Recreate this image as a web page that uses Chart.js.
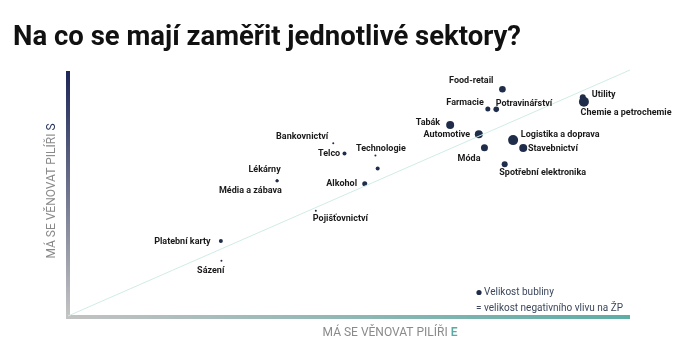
<!DOCTYPE html>
<html lang="cs">
<head>
<meta charset="utf-8">
<title>Na co se mají zaměřit jednotlivé sektory?</title>
<script src="https://cdn.jsdelivr.net/npm/chart.js@4/dist/chart.umd.min.js"></script>
<style>
  html, body { margin: 0; padding: 0; background: #fff; }
  #graf { display: block; }
</style>
</head>
<body>
<canvas id="graf" width="700" height="358"></canvas>
<script>
// sektory, pilíř E (osa x), pilíř S (osa y), velikost bubliny = negativní vliv na ŽP
const sektory = ['Food-retail', 'Farmacie', 'Potravinářství', 'Utility', 'Chemie a petrochemie',
  'Tabák', 'Automotive', 'Logistika a doprava', 'Stavebnictví', 'Móda', 'Spotřební elektronika',
  'Technologie', '', 'Alkohol', 'Telco', 'Bankovnictví', 'Lékárny', 'Média a zábava',
  'Pojišťovnictví', 'Platební karty', 'Sázení'];
const pilirE = [77.3, 74.7, 76.2, 91.6, 91.8, 68.0, 73.1, 79.2, 81.0, 74.1, 77.7,
  54.7, 55.1, 52.8, 49.2, 47.2, 37.2, 37.2, 44.1, 27.2, 27.3];
const pilirS = [92.2, 84.1, 84.0, 88.9, 87.1, 77.6, 73.9, 71.5, 68.3, 68.4, 61.7,
  65.2, 60.0, 53.8, 66.1, 70.2, 55.0, 55.0, 42.8, 30.5, 22.5];
const dopad = [3.3, 2.5, 2.8, 3, 5, 4, 4, 5, 4, 3.5, 3,
  1, 2, 2.5, 2, 1, 1.5, 1.5, 1, 2, 1];

// umístění popisků vůči bublině: zarovnání, posun x, posun y
const popisky = [
  ['right', -9, -8.6], ['right', -4, -6.3], ['left', -0.6, -6], ['left', 9, -3], ['left', -3.3, 11],
  ['right', -10, -2.7], ['right', -8.7, 0.7], ['left', 7.7, -5], ['left', 4.7, 0.3], ['right', -4, 10.6],
  ['left', -5.4, 8.4], ['center', 5.5, -7.2], ['center', 0, 0], ['right', -7.7, 0], ['right', -4.3, 0.7],
  ['right', -5, -6.6], ['center', -12.5, -10.7], ['right', 4.7, 10], ['left', -3, 8.3],
  ['right', -10.3, 0.7], ['center', -10.7, 10.3]
];

const NAVY = '#1f2d4a';
const PISMO = 'Roboto, "Noto Sans", sans-serif';

const bubliny = sektory.map((s, i) => ({ x: pilirE[i], y: pilirS[i], r: dopad[i] }));

const kresleni = {
  id: 'kresleni',
  beforeDatasetsDraw(chart) {
    const { ctx, chartArea: a } = chart;
    ctx.save();
    // osa y s přechodem
    let g = ctx.createLinearGradient(0, a.top, 0, a.bottom);
    g.addColorStop(0, '#1c2658');
    g.addColorStop(1, '#c4c4c4');
    ctx.fillStyle = g;
    ctx.fillRect(a.left - 2, a.top + 1, 4, a.bottom - a.top + 1);
    // osa x s přechodem
    g = ctx.createLinearGradient(a.left, 0, a.right, 0);
    g.addColorStop(0, '#c2c2c2');
    g.addColorStop(1, '#5dada6');
    ctx.fillStyle = g;
    ctx.fillRect(a.left - 2, a.bottom - 1, a.right - a.left + 2, 4);
    ctx.restore();
  },
  afterDatasetsDraw(chart) {
    const { ctx, chartArea: a } = chart;
    ctx.save();
    // nadpis
    ctx.fillStyle = '#111';
    ctx.font = 'bold 27.5px ' + PISMO;
    ctx.textAlign = 'left';
    ctx.textBaseline = 'alphabetic';
    ctx.fillText('Na co se mají zaměřit jednotlivé sektory?', 13, 45);

    // popisky bublin
    const meta = chart.getDatasetMeta(1);
    ctx.font = 'bold 9px ' + PISMO;
    ctx.fillStyle = '#1a1a1a';
    ctx.textBaseline = 'middle';
    meta.data.forEach((pt, i) => {
      if (!sektory[i]) return;
      const [zar, dx, dy] = popisky[i];
      ctx.textAlign = zar;
      ctx.fillText(sektory[i], pt.x + dx, pt.y + dy);
    });

    // názvy os
    ctx.font = '12px ' + PISMO;
    ctx.textAlign = 'left';
    const textX = 'MÁ SE VĚNOVAT PILÍŘI ';
    const wX = ctx.measureText(textX).width;
    ctx.font = '600 12px ' + PISMO;
    const wE = ctx.measureText('E').width;
    let x0 = 390 - (wX + wE) / 2;
    ctx.font = '12px ' + PISMO;
    ctx.fillStyle = '#8a8a8a';
    ctx.fillText(textX, x0, a.bottom + 17);
    ctx.font = '600 12px ' + PISMO;
    ctx.fillStyle = '#5aa9a2';
    ctx.fillText('E', x0 + wX, a.bottom + 17);

    ctx.translate(52, 191);
    ctx.rotate(-Math.PI / 2);
    ctx.font = '12px ' + PISMO;
    const wS = ctx.measureText('S').width;
    x0 = -(wX + wS) / 2;
    ctx.fillStyle = '#8a8a8a';
    ctx.fillText(textX, x0, 0);
    ctx.fillStyle = '#2a3560';
    ctx.fillText('S', x0 + wX, 0);
    ctx.restore();

    // legenda velikosti bubliny
    ctx.save();
    ctx.fillStyle = NAVY;
    ctx.beginPath();
    ctx.arc(479, 292.5, 2.6, 0, Math.PI * 2);
    ctx.fill();
    ctx.font = '10px ' + PISMO;
    ctx.fillStyle = '#3b475c';
    ctx.textBaseline = 'middle';
    ctx.textAlign = 'left';
    ctx.fillText('Velikost bubliny', 484, 292.5);
    ctx.fillText('= velikost negativního vlivu na ŽP', 476, 308);
    ctx.restore();
  }
};

new Chart(document.getElementById('graf'), {
  data: {
    datasets: [
      {
        type: 'line',
        data: [{ x: 0, y: 0 }, { x: 100, y: 100 }],
        borderColor: '#cfece7',
        borderWidth: 1,
        pointRadius: 0,
        fill: false,
        clip: false
      },
      {
        type: 'bubble',
        data: bubliny,
        backgroundColor: NAVY,
        borderWidth: 0,
        hoverRadius: 0,
        clip: false
      }
    ]
  },
  options: {
    responsive: false,
    animation: false,
    events: [],
    layout: { padding: { left: 68, right: 70, top: 70, bottom: 42 } },
    scales: {
      x: { type: 'linear', min: 0, max: 100, display: false },
      y: { type: 'linear', min: 0, max: 100, display: false }
    },
    plugins: {
      legend: { display: false },
      tooltip: { enabled: false }
    }
  },
  plugins: [kresleni]
});
</script>
</body>
</html>
